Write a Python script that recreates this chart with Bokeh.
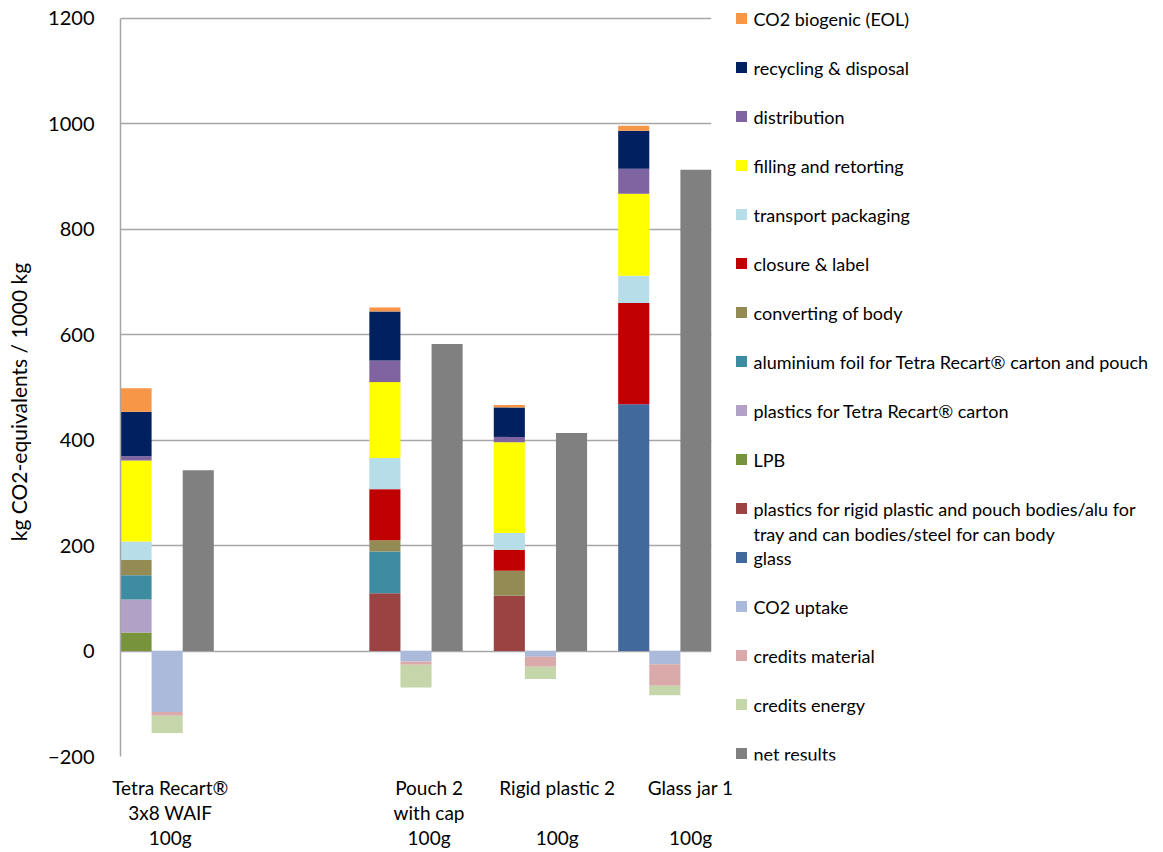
from bokeh.plotting import figure
from bokeh.layouts import row
from bokeh.models import Range1d, FixedTicker, ColumnDataSource
from bokeh.embed import file_html
from bokeh.resources import INLINE
from bokeh.core.properties import value
import numpy as np

# ---------------- data ----------------
categories = ["Tetra Recart®\n3x8 WAIF\n100g", "Pouch 2\nwith cap\n100g",
              "Rigid plastic 2\n \n100g", "Glass jar 1\n \n100g"]
slots = [0, 2, 3, 4]                # slot 1 is left empty
label_pos = [0.40, 2.48, 3.51, 4.60]

# positive contributions (stack order bottom -> top)
glass = [0, 0, 0, 468]
plastics_rigid = [0, 109.5, 105, 0]
lpb = [35, 0, 0, 0]
plastics_tetra = [62.5, 0, 0, 0]
aluminium_foil = [46, 79, 0, 0]
converting = [29, 21.5, 47, 0]
closure_label = [0, 97, 40, 192]
transport_packaging = [35, 59, 32, 51.5]
filling_retorting = [154, 144, 172, 155.5]
distribution = [8, 41, 10, 47.5]
recycling_disposal = [84, 93, 56, 72]
co2_biogenic = [45, 7.5, 4.5, 9.5]
# negative contributions (stack order 0 -> down)
co2_uptake = [-115.5, -20, -11, -25]
credits_material = [-7, -6, -19, -41]
credits_energy = [-33, -43, -23, -18]
# net
net_results = [343, 582, 413.5, 912.5]

y_ticks = [-200, 0, 200, 400, 600, 800, 1000, 1200]
y_min, y_max = -200, 1200
y_title = "kg CO2-equivalents / 1000 kg"

FONT = "Lato"

# ---------------- layout constants (pixels) ----------------
H = 852
W_MAIN, W_LEG = 733, 430
BORDER_LEFT, BORDER_RIGHT = 120, 22
BORDER_TOP, BORDER_BOTTOM = 0, 92
FRAME_H = H - BORDER_TOP - BORDER_BOTTOM           # 760
AX_TOP_PX, AX_BOTTOM_PX = 17.7, 756.0               # where 1200 and -200 sit inside the frame
k = (AX_BOTTOM_PX - AX_TOP_PX) / (y_max - y_min)
y_end = y_max + AX_TOP_PX / k
y_start = y_min - (FRAME_H - AX_BOTTOM_PX) / k

pos_series = [
    ("glass", glass, "#41699B"),
    ("plastics for rigid plastic and pouch bodies/alu for\ntray and can bodies/steel for can body", plastics_rigid, "#9B4242"),
    ("LPB", lpb, "#77933C"),
    ("plastics for Tetra Recart® carton", plastics_tetra, "#B2A1C7"),
    ("aluminium foil for Tetra Recart® carton and pouch", aluminium_foil, "#3E8CA2"),
    ("converting of body", converting, "#948A54"),
    ("closure & label", closure_label, "#C00000"),
    ("transport packaging", transport_packaging, "#B7DEE8"),
    ("filling and retorting", filling_retorting, "#FFFF00"),
    ("distribution", distribution, "#8064A2"),
    ("recycling & disposal", recycling_disposal, "#002060"),
    ("CO2 biogenic (EOL)", co2_biogenic, "#F79646"),
]
neg_series = [
    ("CO2 uptake", co2_uptake, "#ABBADB"),
    ("credits material", credits_material, "#DAA9AA"),
    ("credits energy", credits_energy, "#C5D6AA"),
]
net_color = "#808080"

BW = 0.25
stk_x = [s + 0.125 for s in slots]
neg_x = [s + 0.375 for s in slots]
net_x = [s + 0.625 for s in slots]

p = figure(width=W_MAIN, height=H, x_range=Range1d(0, 4.75), y_range=Range1d(y_start, y_end),
           output_backend="svg", toolbar_location=None,
           min_border_left=BORDER_LEFT, min_border_right=BORDER_RIGHT,
           min_border_top=BORDER_TOP, min_border_bottom=BORDER_BOTTOM)

base = np.zeros(len(slots))
for name, vals, color in pos_series:
    v = np.array(vals, dtype=float)
    src = ColumnDataSource(dict(x=stk_x, bottom=base.copy(), top=base + v))
    p.vbar(x="x", bottom="bottom", top="top", width=BW, fill_color=color, line_color=None, source=src)
    base = base + v

base = np.zeros(len(slots))
for name, vals, color in neg_series:
    v = np.array(vals, dtype=float)
    src = ColumnDataSource(dict(x=neg_x, bottom=base + v, top=base.copy()))
    p.vbar(x="x", bottom="bottom", top="top", width=BW, fill_color=color, line_color=None, source=src)
    base = base + v

p.vbar(x=net_x, bottom=0, top=net_results, width=BW, fill_color=net_color, line_color=None)

# axes / grid
p.outline_line_color = None
p.xgrid.visible = False
p.ygrid.ticker = FixedTicker(ticks=[t for t in y_ticks if t >= 0])
p.ygrid.grid_line_color = "#a6a6a6"
p.ygrid.grid_line_width = 1.5

p.yaxis.ticker = FixedTicker(ticks=y_ticks)
p.yaxis.bounds = (y_min, y_max)
p.yaxis.axis_line_color = "#a6a6a6"
p.yaxis.axis_line_width = 1.5
p.yaxis.major_tick_line_color = None
p.yaxis.minor_tick_line_color = None
p.yaxis.major_label_standoff = 20
p.yaxis.major_label_text_font = FONT
p.yaxis.major_label_text_font_size = "20px"
p.yaxis.major_label_text_color = "#000000"
# trailing no-break spaces only nudge the (centred) title down to its place in the reference
p.yaxis.axis_label = y_title + "\u00a0" * 8
p.yaxis.axis_label_text_font = FONT
p.yaxis.axis_label_text_font_size = "21px"
p.yaxis.axis_label_text_font_style = "normal"
p.yaxis.axis_label_text_color = "#000000"
p.yaxis.axis_label_standoff = 14

p.xaxis.ticker = FixedTicker(ticks=label_pos)
p.xaxis.major_label_overrides = {lp: c for lp, c in zip(label_pos, categories)}
p.xaxis.axis_line_color = None
p.xaxis.major_tick_line_color = None
p.xaxis.minor_tick_line_color = None
p.xaxis.major_label_standoff = 9
p.xaxis.major_label_text_font = FONT
p.xaxis.major_label_text_font_size = "19px"
p.xaxis.major_label_text_color = "#000000"
p.xaxis.major_label_text_line_height = 1.1

# ---------------- legend (separate panel) ----------------
leg = figure(width=W_LEG, height=H, x_range=Range1d(0, W_LEG), y_range=Range1d(FRAME_H, 0),
             output_backend="svg", toolbar_location=None, x_axis_type=None, y_axis_type=None,
             min_border_left=0, min_border_right=0, min_border_top=BORDER_TOP,
             min_border_bottom=BORDER_BOTTOM)
leg.outline_line_color = None
leg.xgrid.visible = False
leg.ygrid.visible = False

entries = [(n, c) for n, _, c in reversed(pos_series)] + [(n, c) for n, _, c in neg_series] + [("net results", net_color)]
ITEM_TOP, ITEM_STEP, LINE_STEP = 18, 49, 25
MARK_X, TEXT_X = 8, 20
mx, my, mc, tx, ty, tt = [], [], [], [], [], []
for i, (name, color) in enumerate(entries):
    yc = ITEM_TOP + ITEM_STEP * i
    mx.append(MARK_X); my.append(yc); mc.append(color)
    for j, line in enumerate(name.split("\n")):
        tx.append(TEXT_X); ty.append(yc + LINE_STEP * j); tt.append(line)
leg.rect(x=mx, y=my, width=11, height=11, width_units="screen", height_units="screen",
         fill_color=mc, line_color=None)
leg.text(x=tx, y=ty, text=tt, text_font=value(FONT), text_font_size="18px",
         text_baseline="middle", text_align="left", text_color="#000000")

layout = row(p, leg)
open("out.html", "w").write(file_html(layout, INLINE))
